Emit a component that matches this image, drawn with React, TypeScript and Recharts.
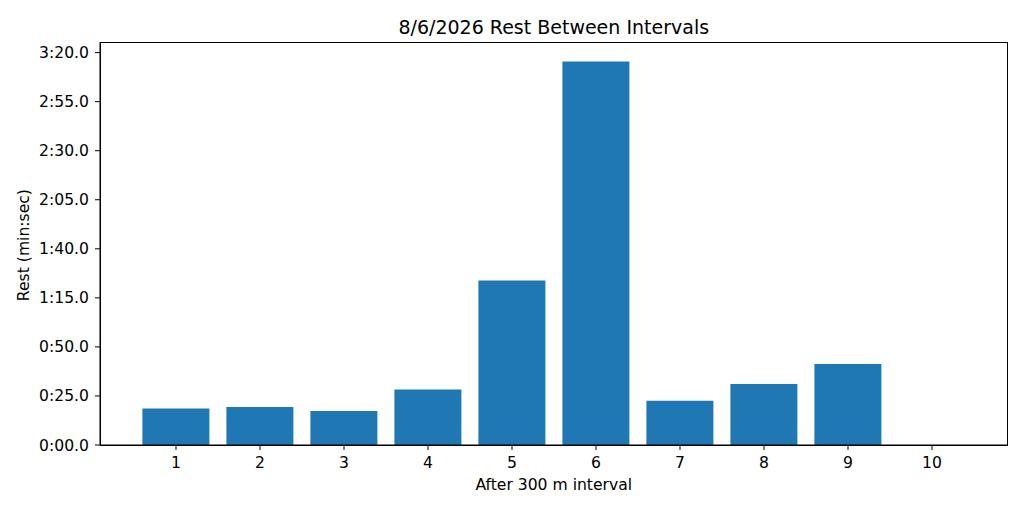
import React from 'react';
import { BarChart, Bar, XAxis, YAxis } from 'recharts';

const categories = ['1', '2', '3', '4', '5', '6', '7', '8', '9', '10'];
const restSeconds = [18.6, 19.4, 17.3, 28.3, 83.8, 195.4, 22.6, 31.1, 41.3, 0];
const yTicks = [0, 25, 50, 75, 100, 125, 150, 175, 200];

const data = categories.map((c, i) => ({ interval: c, rest: restSeconds[i] }));

const fmt = (v: number) => {
  const m = Math.floor(v / 60);
  const s = v - m * 60;
  return `${m}:${s < 10 ? '0' : ''}${s.toFixed(1)}`;
};

const FONT = '"DejaVu Sans", sans-serif';
const FS = 15.6;
const tickStyle = { fontFamily: FONT, fontSize: FS, fill: '#000' };

export default function App() {
  return (
    <div style={{ position: 'absolute', left: 0, top: 0, width: 1024, height: 512, background: '#fff', fontFamily: FONT }}>
      <div style={{ position: 'absolute', left: 100.5, width: 906.5, top: 15.7, lineHeight: 1.164, textAlign: 'center', fontSize: 19, color: '#000', whiteSpace: 'nowrap' }}>
        8/6/2026 Rest Between Intervals
      </div>
      <div style={{ position: 'absolute', left: 100.5, width: 906.5, top: 476, lineHeight: 1.164, textAlign: 'center', fontSize: FS, color: '#000', whiteSpace: 'nowrap' }}>
        After 300 m interval
      </div>
      <div style={{ position: 'absolute', left: 23.5 - 100, top: 245 - 9.1, width: 200, height: 18.2, lineHeight: '18.2px', textAlign: 'center', fontSize: FS, color: '#000', transform: 'rotate(-90deg)', whiteSpace: 'nowrap' }}>
        Rest (min:sec)
      </div>
      <BarChart width={1024} height={512} data={data} margin={{ top: 42, right: 17, bottom: 37, left: 40 }} barCategoryGap="10%">
        <XAxis
          dataKey="interval"
          height={30}
          padding={{ left: 34, right: 33 }}
          tickSize={5}
          tickMargin={7}
          tick={tickStyle}
          axisLine={{ stroke: '#000', strokeWidth: 1 }}
          tickLine={{ stroke: '#000' }}
          interval={0}
        />
        <YAxis
          width={60}
          domain={[0, 205.4]}
          ticks={yTicks}
          tickFormatter={fmt}
          tickSize={5}
          tickMargin={6}
          tick={tickStyle}
          axisLine={{ stroke: '#000', strokeWidth: 1 }}
          tickLine={{ stroke: '#000' }}
          allowDataOverflow
        />
        <Bar dataKey="rest" fill="#1f77b4" isAnimationActive={false} />
      </BarChart>
      <div style={{ position: 'absolute', left: 99.5, top: 41.5, width: 908, height: 404, boxSizing: 'border-box', border: '1px solid #000', pointerEvents: 'none' }} />
    </div>
  );
}
